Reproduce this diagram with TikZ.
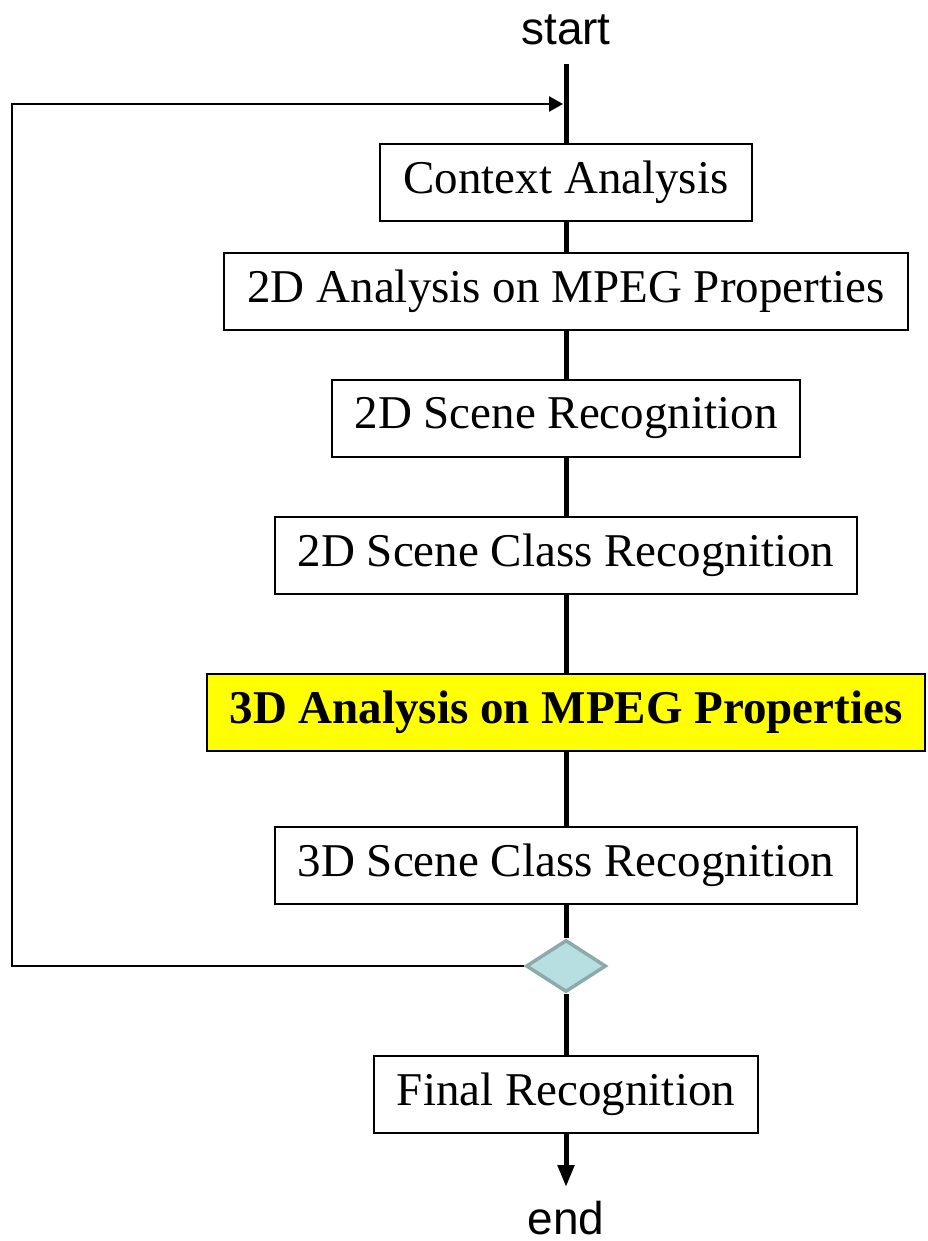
\documentclass[tikz,border=0pt]{standalone}
\usepackage{fontspec}
\setmainfont{Liberation Serif}
\setsansfont{Liberation Sans}
\usepackage{tikz}
\usetikzlibrary{arrows.meta,shapes.geometric}
\definecolor{hilite}{HTML}{FFFF00}
\definecolor{decfill}{HTML}{B7DFE1}
\definecolor{decline}{HTML}{8EA9AA}

\begin{document}
\begin{tikzpicture}[x=1pt, y=-1pt,
  box/.style={draw, line width=2pt, align=center, font=\fontsize{47}{50}\selectfont,
              minimum height=77pt, inner xsep=23pt, inner ysep=0pt, fill=white},
  hot/.style={box, fill=hilite, font=\fontsize{47}{50}\selectfont\bfseries},
  dec/.style={diamond, draw=decline, fill=decfill, line width=3.5pt, inner sep=0pt,
              minimum width=80pt, minimum height=52pt},
  term/.style={font=\sffamily\fontsize{46}{48}\selectfont, inner sep=0pt},
  flow/.style={line width=5pt},
  back/.style={line width=2.5pt, -{Triangle[length=14pt, width=15pt]}}]
  \useasboundingbox (0,0) rectangle (927,1241);
  % spine at x = 566, picture coordinates in pixels from the top
  \node[term] (start)  at (566,30)    {start};
  \coordinate (top)    at (566,64);
  \coordinate (join)   at (563,104);
  \node[box]  (ctx)    at (566,182.5) {Context Analysis};
  \node[box]  (mp2d)   at (566,291.5) {2D Analysis on MPEG Properties};
  \node[box]  (scn2d)  at (566,418.5) {2D Scene Recognition};
  \node[box]  (cls2d)  at (566,555)   {2D Scene Class Recognition};
  \node[hot]  (mp3d)   at (566,712)   {3D Analysis on MPEG Properties};
  \node[box]  (cls3d)  at (566,865.5) {3D Scene Class Recognition};
  \node[dec]  (check)  at (566,966)   {};
  \node[box]  (final)  at (566,1094)  {Final Recognition};
  \coordinate (tip)    at (566,1187);
  \node[term] (end)    at (566,1218)  {end};
  \coordinate (loop)   at (12,104);
  \draw[flow] (top) -- (ctx);
  \draw[flow] (ctx) -- (mp2d);
  \draw[flow] (mp2d) -- (scn2d);
  \draw[flow] (scn2d) -- (cls2d);
  \draw[flow] (cls2d) -- (mp3d);
  \draw[flow] (mp3d) -- (cls3d);
  \draw[flow] (cls3d) -- (check);
  \draw[flow] (check) -- (final);
  \draw[flow, -{Triangle[length=22pt, width=16pt]}] (final) -- (tip);
  \draw[back] (check.west) -| (loop) -- (join);
\end{tikzpicture}
\end{document}
